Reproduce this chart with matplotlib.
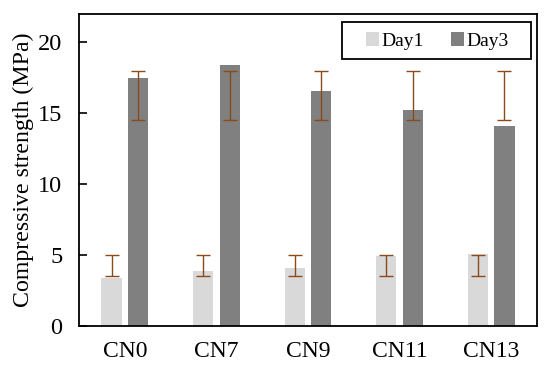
import matplotlib
matplotlib.use("Agg")
import matplotlib.pyplot as plt
from matplotlib.patches import Rectangle
import numpy as np

categories = ["CN0", "CN7", "CN9", "CN11", "CN13"]
day1 = [3.35, 3.83, 4.06, 4.94, 5.03]
day3 = [17.47, 18.37, 16.55, 15.2, 14.13]
day1_err_low = [3.5, 3.5, 3.5, 3.5, 3.5]
day1_err_high = [5.0, 5.0, 5.0, 5.0, 5.0]
day3_err_low = [14.5, 14.5, 14.5, 14.5, 14.5]
day3_err_high = [18.0, 18.0, 18.0, 18.0, 18.0]
yticks = [0, 5, 10, 15, 20]

plt.rcParams['font.family'] = ['Liberation Serif', 'DejaVu Serif']

fig = plt.figure(figsize=(5.5, 3.73), dpi=100)
ax = fig.add_axes([79/550, 1 - 325.7/373, (537-79)/550, (325.7-14)/373])

x = np.arange(len(categories))
w = 0.22
off = 0.145
c1 = "#D9D9D9"
c3 = "#808080"
ax.bar(x - off, day1, w, color=c1, label="Day1", zorder=2)
ax.bar(x + off, day3, w, color=c3, label="Day3", zorder=2)

ecol = "#8B4A1C"
for xs, lo, hi in [(x - off, day1_err_low, day1_err_high), (x + off, day3_err_low, day3_err_high)]:
    lo = np.array(lo); hi = np.array(hi)
    ax.errorbar(xs, (lo + hi) / 2, yerr=(hi - lo) / 2, fmt='none', ecolor=ecol,
                elinewidth=1.0, capsize=5.2, capthick=1.0, zorder=3)

ax.set_xlim(-0.5, len(categories) - 0.5)
ax.set_ylim(0, 22)
ax.set_yticks(yticks)
ax.set_xticks(x)
ax.set_xticklabels(categories, fontsize=17)
ax.tick_params(axis='x', length=0, pad=11)
ax.tick_params(axis='y', direction='in', length=5.5, width=1.2, labelsize=17.5, pad=12)
ax.set_ylabel("Compressive strength (MPa)", fontsize=17.2, labelpad=3)
for s in ax.spines.values():
    s.set_linewidth(1.3)
    s.set_color("black")

# legend box
ax.add_patch(Rectangle((0.574, 0.855), 0.987 - 0.574, 0.975 - 0.855, transform=ax.transAxes,
                       facecolor='white', edgecolor='black', linewidth=1.3, zorder=4))
leg = ax.legend(loc='center', ncol=2, fontsize=14, frameon=False,
                handlelength=0.67, handleheight=0.67, handletextpad=0.12,
                columnspacing=1.37, borderpad=0.0, bbox_to_anchor=(0.782, 0.913))
leg.set_zorder(5)

fig.savefig("out.png", dpi=100)
